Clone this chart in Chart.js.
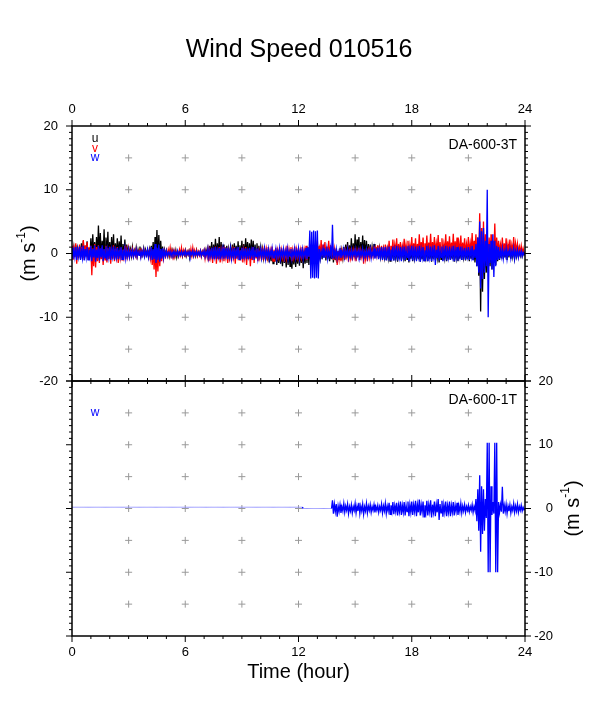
<!DOCTYPE html>
<html>
<head>
<meta charset="utf-8">
<script src="https://cdn.jsdelivr.net/npm/chart.js@4.4.1/dist/chart.umd.min.js"></script>
<style>
  html, body { margin: 0; padding: 0; background: #fff; }
  #wrap { position: relative; width: 598px; height: 708px; }
  canvas { position: absolute; left: 0; }
  #top { top: 0; }
  #bottom { top: 363px; }
</style>
</head>
<body>
<div id="wrap">
  <canvas id="top" width="598" height="403"></canvas>
  <canvas id="bottom" width="598" height="345"></canvas>
</div>
<script>
// samples every 0.05 hour (3 min), 0 .. 24, one row per hour
const stepHours = 0.05;

// DA-600-3T, u component (m/s)
const uTop = [
  0.6,-0.3,1.0,-0.5,1.3,-0.2,0.8,-0.6,1.1,-0.4,1.6,-0.3,2.0,-0.7,1.2,-0.2,1.9,-0.5,0.9,-0.4,
  2.4,-0.6,3.0,-0.2,1.8,-1.0,2.6,-0.5,4.4,-0.3,3.2,-0.8,2.0,-0.4,3.8,-0.7,2.5,-0.3,3.4,-0.8,
  1.8,-0.6,2.6,-0.3,3.0,-0.7,1.6,-0.4,2.4,-0.5,1.9,-0.2,2.8,-0.6,1.5,-0.3,2.2,-0.5,1.4,-0.4,
  1.2,-0.2,0.7,-0.4,1.0,-0.3,0.5,-0.2,0.9,-0.4,0.6,-0.1,1.1,-0.3,0.5,-0.2,0.8,-0.3,0.6,-0.2,
  0.5,-0.4,0.7,-0.2,1.2,-0.5,1.8,-0.8,2.6,-0.6,3.7,-1.0,2.9,-0.7,2.0,-0.5,1.1,-0.4,0.6,-0.3,
  0.5,-0.2,0.3,-0.5,0.4,-0.3,0.6,-0.1,0.3,-0.4,0.5,-0.6,0.2,-0.3,0.4,-0.2,0.5,-0.4,0.3,-0.2,
  0.5,-0.4,0.3,-0.2,0.4,-0.5,0.2,-0.3,0.4,-0.2,0.3,-0.4,0.5,-0.3,0.2,-0.2,0.4,-0.3,0.3,-0.2,
  0.4,-0.3,0.6,-0.2,0.8,-0.4,1.2,-0.5,1.8,-0.6,1.4,-0.3,2.3,-0.7,1.6,-0.4,2.6,-0.8,1.8,-0.5,
  1.4,-0.4,1.0,-0.6,1.2,-0.3,0.8,-0.5,1.0,-0.4,1.4,-0.7,1.6,-0.3,1.2,-0.6,1.9,-0.5,1.3,-0.8,
  2.0,-0.5,1.5,-0.7,2.4,-0.4,1.8,-0.8,1.6,-0.3,2.2,-0.6,2.0,-0.7,1.4,-0.4,1.6,-0.6,1.2,-0.3,
  1.0,-0.5,0.7,-0.7,0.8,-0.9,0.5,-1.1,0.6,-1.4,0.3,-1.2,0.5,-1.6,0.2,-1.3,0.6,-1.8,0.3,-1.5,
  0.5,-1.6,0.2,-2.0,0.4,-1.5,0.1,-2.2,0.6,-1.8,0.3,-2.0,0.5,-2.4,0.2,-1.7,0.4,-2.1,0.1,-1.6,
  0.5,-1.9,0.3,-1.5,0.6,-2.3,0.4,-1.6,0.8,-1.5,1.0,-1.8,1.2,-1.2,0.9,-1.5,1.0,-1.0,0.7,-1.3,
  0.9,-1.0,0.6,-0.7,0.8,-0.9,0.5,-0.6,1.0,-1.1,0.7,-0.8,0.7,-1.2,0.4,-0.9,0.8,-1.4,0.5,-1.0,
  0.6,-1.5,0.4,-1.0,0.8,-1.0,0.5,-0.7,1.0,-0.8,1.4,-0.5,1.8,-0.7,1.3,-0.4,2.4,-0.8,1.6,-0.5,
  3.0,-0.9,2.2,-0.5,2.6,-0.7,1.8,-0.4,2.8,-0.8,2.1,-0.5,2.0,-0.6,1.5,-0.4,1.4,-0.6,1.0,-0.3,
  1.5,-0.6,1.0,-0.4,1.2,-0.7,0.8,-0.5,1.0,-0.9,0.6,-0.6,0.9,-1.0,0.5,-0.7,1.1,-1.2,0.7,-0.8,
  1.0,-1.1,0.6,-0.7,0.8,-1.3,0.5,-0.8,1.2,-1.0,0.7,-0.6,0.9,-1.2,0.5,-0.9,1.0,-1.4,0.6,-0.8,
  0.8,-1.2,0.5,-0.7,1.0,-1.0,0.6,-0.8,0.9,-1.3,0.5,-0.9,1.1,-1.1,0.7,-0.6,0.8,-1.2,0.5,-0.8,
  1.0,-1.3,0.6,-0.8,0.9,-1.0,0.5,-0.7,1.2,-1.4,0.7,-0.9,0.8,-1.1,0.5,-0.7,1.0,-1.2,0.6,-0.9,
  0.9,-1.0,0.5,-0.8,1.1,-1.3,0.6,-0.7,0.8,-1.2,0.5,-0.8,1.0,-1.0,0.6,-0.6,0.9,-1.1,0.5,-0.8,
  1.0,-1.2,0.6,-0.8,1.2,-1.0,0.7,-1.4,1.4,-2.0,2.5,-3.5,3.5,-9.1,4.0,-6.0,2.0,-4.0,2.5,-3.0,
  2.5,-3.0,1.5,-2.0,2.0,-2.5,1.2,-1.5,1.5,-1.8,1.0,-1.2,1.4,-1.0,0.8,-0.7,1.2,-0.9,0.6,-0.6,
  1.5,-1.0,0.8,-0.6,1.2,-0.8,0.6,-0.5,1.0,-0.7,0.5,-0.4,1.3,-0.6,0.7,-0.3,0.6,-0.4,0.3,-0.2,
  0.2
];

// DA-600-3T, v component
const vTop = [
  1.2,-1.0,0.7,-0.5,1.6,-1.6,0.9,-0.6,1.4,-0.9,1.0,-0.4,2.1,-1.0,1.3,-0.5,1.8,-0.9,1.0,-0.5,
  1.2,-3.4,0.8,-2.0,1.5,-2.2,1.0,-1.2,1.3,-1.5,0.7,-0.9,1.0,-1.8,0.6,-1.0,1.2,-1.4,0.8,-0.8,
  1.1,-1.6,0.6,-0.8,1.3,-1.2,0.7,-0.6,1.0,-1.5,0.5,-0.7,0.9,-1.0,0.6,-0.5,1.2,-0.9,0.6,-0.5,
  0.8,-0.5,0.4,-0.2,0.7,-0.4,0.4,-0.3,0.6,-0.5,0.3,-0.2,0.8,-0.4,0.4,-0.2,0.6,-0.3,0.3,-0.2,
  0.5,-0.5,0.4,-0.8,0.8,-1.8,0.5,-2.5,1.0,-3.7,0.6,-2.8,0.8,-2.0,0.5,-1.2,0.6,-0.8,0.4,-0.4,
  0.4,-0.4,0.6,-0.2,0.9,-0.3,0.5,-0.2,0.5,-0.5,0.3,-0.2,0.3,-0.4,0.6,-0.2,0.9,-0.3,0.5,-0.2,
  0.5,-0.3,0.3,-0.2,0.4,-0.5,0.7,-0.3,0.9,-0.3,0.5,-0.2,0.5,-0.4,0.3,-0.3,0.4,-0.5,0.3,-0.2,
  0.5,-0.8,0.3,-0.4,0.6,-1.2,0.4,-0.6,0.9,-1.5,0.5,-0.8,1.1,-1.6,0.6,-0.9,1.0,-1.4,0.5,-0.7,
  1.0,-1.2,0.5,-0.6,0.9,-1.5,0.4,-0.7,0.8,-1.2,0.5,-0.6,1.0,-1.6,0.6,-0.8,0.9,-1.0,0.5,-0.5,
  0.9,-1.4,0.5,-0.7,1.0,-1.8,0.6,-0.9,0.8,-2.0,0.4,-1.0,1.0,-1.5,0.5,-0.7,0.7,-1.2,0.4,-0.6,
  0.9,-1.0,0.5,-0.5,1.2,-1.1,0.6,-0.6,1.0,-0.8,0.5,-0.4,1.1,-1.2,0.6,-0.6,0.9,-1.0,0.5,-0.5,
  1.0,-1.1,0.5,-0.6,0.8,-1.3,0.4,-0.7,1.2,-0.9,0.6,-0.5,1.0,-1.2,0.5,-0.6,1.1,-1.0,0.6,-0.5,
  0.9,-1.2,0.5,-0.6,1.0,-0.8,0.6,-0.4,1.2,-1.0,0.8,-0.5,1.5,-1.2,0.9,-0.6,1.6,-1.4,1.0,-0.7,
  2.0,-0.5,1.2,-0.2,2.1,-0.4,1.4,0.0,1.8,-0.6,1.1,-0.2,2.0,-0.5,1.3,-0.3,1.2,-1.0,0.7,-0.5,
  0.8,-1.8,0.4,-0.9,0.7,-1.2,0.4,-0.6,0.8,-1.0,0.4,-0.5,0.6,-1.3,0.3,-0.7,0.9,-1.1,0.5,-0.5,
  0.8,-1.2,0.4,-0.6,0.9,-1.0,0.5,-0.5,0.7,-1.6,0.4,-0.8,0.8,-1.2,0.4,-0.6,1.0,-0.8,0.6,-0.4,
  1.1,-0.6,0.7,-0.3,1.3,-0.5,0.8,-0.2,1.2,-0.4,0.8,-0.1,1.4,-0.3,0.9,0.0,2.0,-0.3,1.2,0.0,
  2.2,-0.2,1.4,0.2,2.4,-0.3,1.5,0.1,1.8,-0.2,1.2,0.3,2.3,-0.1,1.4,0.2,2.0,-0.2,1.3,0.2,
  2.6,-0.1,1.6,0.3,2.4,-0.2,1.5,0.2,3.0,0.0,1.8,0.4,2.5,-0.2,1.6,0.3,2.8,-0.1,1.7,0.3,
  3.1,-0.2,1.8,0.3,2.6,0.0,1.6,0.4,2.9,-0.1,1.8,0.2,2.4,-0.2,1.5,0.3,3.0,-0.1,1.9,0.3,
  2.7,-0.2,1.7,0.3,3.1,-0.1,1.9,0.4,2.5,0.0,1.6,0.3,2.8,-0.2,1.7,0.2,2.4,-0.1,1.5,0.3,
  2.6,0.0,1.6,0.3,3.2,-0.2,2.0,0.2,3.0,-0.5,2.2,-1.5,6.3,-4.0,4.0,-2.5,5.0,-1.5,3.0,-1.0,
  3.5,-2.0,2.5,-1.0,3.0,0.5,2.0,-0.5,4.7,-0.8,2.5,0.0,2.0,-0.2,1.4,0.3,2.5,-0.1,1.6,0.2,
  2.4,-0.1,1.5,0.3,2.2,-0.2,1.3,0.2,2.6,0.0,1.6,0.3,1.5,-0.2,1.0,0.2,1.2,0.0,0.8,0.1,
  0.0
];

// DA-600-3T, w component
const wTop = [
  0.9,-0.9,0.5,-0.6,1.0,-1.0,0.6,-0.5,1.1,-1.0,0.5,-0.7,1.2,-1.1,0.7,-0.6,1.0,-1.0,0.6,-0.5,
  1.2,-1.2,0.7,-0.6,1.3,-1.3,0.6,-0.7,1.2,-1.1,0.8,-0.6,1.3,-1.2,0.7,-0.7,1.1,-1.1,0.6,-0.6,
  1.0,-1.0,0.6,-0.5,1.1,-1.0,0.5,-0.6,0.9,-0.9,0.5,-0.5,1.0,-0.9,0.6,-0.5,0.8,-0.8,0.4,-0.5,
  0.6,-0.6,0.3,-0.3,0.5,-0.5,0.3,-0.3,0.6,-0.5,0.3,-0.3,0.5,-0.6,0.3,-0.3,0.6,-0.5,0.3,-0.3,
  0.6,-0.6,0.4,-0.5,1.0,-1.0,0.7,-0.9,1.5,-1.5,0.9,-1.0,1.4,-1.3,0.7,-0.8,0.8,-0.7,0.4,-0.4,
  0.4,-0.4,0.2,-0.2,0.3,-0.4,0.2,-0.2,0.4,-0.3,0.2,-0.2,0.4,-0.4,0.2,-0.2,0.3,-0.3,0.2,-0.2,
  0.4,-0.3,0.2,-0.2,0.3,-0.4,0.2,-0.2,0.4,-0.4,0.2,-0.2,0.3,-0.3,0.2,-0.2,0.4,-0.4,0.2,-0.2,
  0.5,-0.5,0.3,-0.3,0.7,-0.7,0.4,-0.4,0.9,-0.9,0.5,-0.5,1.0,-0.9,0.5,-0.5,0.9,-0.9,0.5,-0.5,
  0.8,-0.8,0.5,-0.4,0.9,-0.9,0.5,-0.5,0.8,-0.8,0.4,-0.5,0.9,-0.8,0.5,-0.4,1.0,-0.9,0.5,-0.5,
  0.9,-0.9,0.5,-0.5,0.8,-0.9,0.4,-0.5,0.9,-0.8,0.5,-0.4,1.0,-1.0,0.5,-0.5,0.8,-0.8,0.4,-0.4,
  0.7,-0.7,0.4,-0.4,0.8,-0.8,0.4,-0.4,0.7,-0.8,0.4,-0.4,0.8,-0.7,0.4,-0.4,0.7,-0.8,0.4,-0.4,
  0.8,-0.8,0.4,-0.4,0.7,-0.7,0.4,-0.4,0.8,-0.8,0.4,-0.4,0.7,-0.8,0.4,-0.4,0.8,-0.7,0.4,-0.4,
  0.8,-0.8,0.4,-0.4,0.7,-0.8,0.4,-0.4,0.9,-0.9,0.5,-0.5,3.6,-3.9,3.4,-3.8,3.6,-3.9,3.5,-3.8,
  3.6,-3.9,0.7,-0.8,0.4,-0.4,0.8,-0.7,0.4,-0.4,0.8,-0.8,0.4,-0.4,0.8,-0.8,4.5,-0.8,0.4,-0.4,
  0.7,-0.7,0.3,-0.4,0.6,-0.7,0.3,-0.3,0.7,-0.6,0.4,-0.3,0.7,-0.7,0.3,-0.4,0.6,-0.6,0.3,-0.3,
  0.7,-0.6,0.3,-0.4,0.6,-0.7,0.4,-0.3,0.7,-0.7,0.3,-0.4,0.6,-0.6,0.4,-0.3,0.7,-0.7,0.3,-0.4,
  0.8,-0.8,0.4,-0.4,0.9,-0.9,0.5,-0.5,1.0,-1.0,0.5,-0.5,1.0,-1.1,0.5,-0.5,1.1,-1.0,0.6,-0.5,
  1.1,-1.1,0.6,-0.5,1.2,-1.1,0.5,-0.6,1.0,-1.2,0.6,-0.5,1.1,-1.0,0.5,-0.6,1.2,-1.2,0.6,-0.5,
  1.2,-1.1,0.6,-0.6,1.1,-1.2,0.5,-0.5,1.2,-1.3,0.6,-0.6,1.0,-1.1,0.5,-0.5,1.2,-1.2,0.6,-0.6,
  1.1,-1.2,0.6,-0.5,1.3,-1.8,0.6,-0.7,1.2,-1.1,0.5,-0.6,1.1,-1.2,0.6,-0.5,1.2,-1.1,0.5,-0.6,
  1.1,-1.0,0.5,-0.5,1.2,-1.2,0.6,-0.6,1.0,-1.1,0.5,-0.5,1.1,-1.0,0.5,-0.5,0.9,-1.0,0.5,-0.5,
  1.0,-1.0,0.5,-0.5,1.2,-1.1,0.6,-0.7,1.5,-2.0,2.5,-3.0,5.0,-5.5,3.5,-4.0,4.0,-3.0,2.0,-2.0,
  10.0,-10.0,1.5,-1.5,2.0,-2.5,3.0,-3.7,2.0,-2.0,1.2,-1.0,1.0,-0.9,0.5,-0.5,0.8,-0.8,0.4,-0.4,
  0.8,-0.8,0.4,-0.4,0.7,-0.7,0.4,-0.4,0.8,-0.8,0.4,-0.4,0.6,-0.6,0.3,-0.3,0.4,-0.4,0.2,-0.2,
  0.0
];

// DA-600-1T, w component
const wBottom = [
  0.2,0.2,0.2,0.2,0.2,0.2,0.2,0.2,0.2,0.2,0.2,0.2,0.2,0.2,0.2,0.2,0.2,0.2,0.2,0.2,
  0.2,0.2,0.2,0.2,0.2,0.2,0.2,0.2,0.2,0.2,0.2,0.2,0.2,0.2,0.2,0.2,0.2,0.2,0.2,0.2,
  0.2,0.2,0.2,0.2,0.2,0.2,0.2,0.2,0.2,0.2,0.2,0.2,0.2,0.2,0.2,0.2,0.2,0.2,0.2,0.2,
  0.2,0.2,0.2,0.2,0.2,0.2,0.2,0.2,0.2,0.2,0.2,0.2,0.2,0.2,0.2,0.2,0.2,0.2,0.2,0.2,
  0.2,0.2,0.2,0.2,0.2,0.2,0.2,0.2,0.2,0.2,0.2,0.2,0.2,0.2,0.2,0.2,0.2,0.2,0.2,0.2,
  0.2,0.2,0.2,0.2,0.2,0.2,0.2,0.2,0.2,0.2,0.2,0.2,0.2,0.2,0.2,0.2,0.2,0.2,0.2,0.2,
  0.2,0.2,0.2,0.2,0.2,0.2,0.2,0.2,0.2,0.2,0.2,0.2,0.2,0.2,0.2,0.2,0.2,0.2,0.2,0.2,
  0.2,0.2,0.2,0.2,0.2,0.2,0.2,0.2,0.2,0.2,0.2,0.2,0.2,0.2,0.2,0.2,0.2,0.2,0.2,0.2,
  0.2,0.2,0.2,0.2,0.2,0.2,0.2,0.2,0.2,0.2,0.2,0.2,0.2,0.2,0.2,0.2,0.2,0.2,0.2,0.2,
  0.2,0.2,0.2,0.2,0.2,0.2,0.2,0.2,0.2,0.2,0.2,0.2,0.2,0.2,0.2,0.2,0.2,0.2,0.2,0.2,
  0.2,0.2,0.2,0.2,0.2,0.2,0.2,0.2,0.2,0.2,0.2,0.2,0.2,0.2,0.2,0.2,0.2,0.2,0.2,0.2,
  0.2,0.2,0.2,0.2,0.2,0.2,0.2,0.2,0.2,0.2,0.2,0.2,0.2,0.2,0.2,0.2,0.2,0.2,0.2,0.2,
  0.2,0.2,0.2,0.2,0.2,0.0,0.0,0.0,0.0,0.0,0.0,0.0,0.0,0.0,0.0,0.0,0.0,0.0,0.0,0.0,
  0.0,0.0,0.0,0.0,0.0,0.0,0.0,0.0,0.0,0.0,0.0,0.0,0.0,0.0,0.0,0.0,1.3,-0.8,0.7,-0.5,
  0.7,-1.3,0.4,-0.5,0.6,-0.7,0.3,-0.4,0.8,-0.6,0.4,-0.3,0.7,-0.8,0.3,-0.4,0.6,-0.7,0.3,-0.3,
  0.8,-0.7,0.4,-0.4,0.9,-0.8,0.4,-0.4,0.7,-0.9,0.3,-0.4,0.8,-0.7,0.4,-0.3,0.6,-0.6,0.3,-0.3,
  0.6,-0.6,0.3,-0.3,0.5,-0.6,0.3,-0.3,0.7,-0.7,0.4,-0.4,0.8,-0.8,0.4,-0.4,0.9,-0.9,0.5,-0.5,
  1.0,-0.9,0.5,-0.5,0.9,-1.1,0.5,-0.5,1.1,-1.0,0.5,-0.6,1.0,-1.1,0.5,-0.5,1.1,-1.2,0.6,-0.6,
  1.1,-1.0,0.6,-0.5,1.2,-1.2,0.6,-0.6,1.4,-1.1,0.6,-0.6,1.1,-1.3,0.5,-0.6,1.2,-1.1,0.6,-0.5,
  1.3,-1.4,0.6,-0.6,1.1,-1.2,0.6,-0.6,1.5,-1.8,0.7,-0.7,1.2,-1.3,0.6,-0.6,1.1,-1.2,0.5,-0.6,
  1.1,-1.2,0.5,-0.6,1.0,-1.1,0.5,-0.5,0.9,-1.0,0.4,-0.5,0.8,-0.7,0.4,-0.4,0.6,-0.6,0.3,-0.3,
  0.5,-0.5,0.3,-0.3,0.6,-0.6,0.3,-0.3,1.5,-2.0,3.0,-3.5,5.2,-6.8,3.5,-4.0,3.0,-3.5,1.5,-1.5,
  10.3,-10.0,10.3,-10.0,3.5,-1.0,1.0,-0.8,10.3,-10.0,10.3,-10.0,1.0,-0.6,0.6,-0.5,3.4,-0.8,0.5,-0.5,
  0.7,-0.8,0.4,-0.4,0.6,-0.7,0.3,-0.3,0.8,-0.6,0.4,-0.4,0.7,-0.6,0.3,-0.3,0.5,-0.4,0.2,-0.2,
  0.0
];

// grid crosses
const gridHours = [3, 6, 9, 12, 15, 18, 21];
const gridSpeeds = [-15, -10, -5, 0, 5, 10, 15];

const FONT = '"Liberation Sans", Arial, Helvetica, sans-serif';
Chart.defaults.font.family = FONT;
Chart.defaults.color = '#000';

function toPoints(values) {
  return values.map((v, i) => ({ x: Math.round(i * stepHours * 100) / 100, y: v }));
}

function crosses() {
  const pts = [];
  gridHours.forEach(h => gridSpeeds.forEach(s => pts.push({ x: h, y: s })));
  return pts;
}

function series(label, values, color, order) {
  return {
    label: label,
    data: toPoints(values),
    borderColor: color,
    borderWidth: 1.3,
    pointRadius: 0,
    tension: 0,
    fill: false,
    order: order,
    segment: {
      // quiet (flat) stretches are drawn as a thin pale trace
      borderWidth: c => (c.p0.parsed.y === c.p1.parsed.y ? 0.8 : 1.3),
      borderColor: c => (c.p0.parsed.y === c.p1.parsed.y ? '#7f7fff' : color)
    }
  };
}

const crossSet = {
  label: 'grid',
  data: crosses(),
  showLine: false,
  pointStyle: 'cross',
  pointRadius: 3.5,
  pointBorderColor: '#9a9a9a',
  pointBorderWidth: 1,
  order: 10
};

function drawUnits(ctx, cx, cy) {
  ctx.save();
  ctx.translate(cx, cy);
  ctx.rotate(-Math.PI / 2);
  ctx.fillStyle = '#000';
  ctx.textBaseline = 'middle';
  ctx.textAlign = 'left';
  const big = '20px ' + FONT, small = '12px ' + FONT;
  ctx.font = big;
  const w1 = ctx.measureText('(m s').width;
  const w3 = ctx.measureText(')').width;
  ctx.font = small;
  const w2 = ctx.measureText('-1').width;
  const x = -(w1 + w2 + w3) / 2;
  ctx.font = big;
  ctx.fillText('(m s', x, 1);
  ctx.font = small;
  ctx.fillText('-1', x + w1, -6);
  ctx.font = big;
  ctx.fillText(')', x + w1 + w2, 1);
  ctx.restore();
}

// frame, outward ticks, labels inside the panel
const panelFrame = {
  id: 'panelFrame',
  afterDraw(chart, args, opts) {
    const { ctx, chartArea: a } = chart;
    const xs = chart.scales.x, ys = chart.scales.y;
    ctx.save();
    ctx.strokeStyle = '#000';
    ctx.lineWidth = 1;
    ctx.beginPath();
    for (let h = 0; h <= 24; h++) {
      const px = xs.getPixelForValue(h);
      const len = h % 6 === 0 ? 6 : 3;
      ctx.moveTo(px, a.top); ctx.lineTo(px, a.top - len);
      ctx.moveTo(px, a.bottom); ctx.lineTo(px, a.bottom + len);
    }
    for (let s = -20; s <= 20; s++) {
      const py = ys.getPixelForValue(s);
      const len = s % 10 === 0 ? 6 : 3;
      ctx.moveTo(a.left, py); ctx.lineTo(a.left - len, py);
      ctx.moveTo(a.right, py); ctx.lineTo(a.right + len, py);
    }
    ctx.stroke();
    ctx.lineWidth = 1.5;
    ctx.strokeRect(a.left, a.top, a.right - a.left, a.bottom - a.top);

    ctx.font = '14px ' + FONT;
    ctx.fillStyle = '#000';
    ctx.textAlign = 'right';
    ctx.textBaseline = 'middle';
    ctx.fillText(opts.station, a.right - 8, a.top + 19);

    ctx.font = '12px ' + FONT;
    ctx.textAlign = 'center';
    opts.legend.forEach((item, i) => {
      ctx.fillStyle = item.color;
      ctx.fillText(item.text, a.left + 23, a.top + opts.legendTop + i * 9.5);
    });

    const cy = (a.top + a.bottom) / 2;
    if (opts.unitSide === 'left') drawUnits(ctx, 28, cy);
    else drawUnits(ctx, a.right + 47, cy);
    ctx.restore();
  }
};

new Chart(document.getElementById('top'), {
  type: 'line',
  data: {
    datasets: [
      series('w', wTop, '#0000ff', 0),
      series('v', vTop, '#ff0000', 1),
      series('u', uTop, '#000000', 2),
      crossSet
    ]
  },
  options: {
    responsive: false,
    animation: false,
    parsing: false,
    normalized: true,
    layout: { padding: { left: 0, right: 0, top: 0, bottom: 22 } },
    plugins: {
      legend: { display: false },
      tooltip: { enabled: false },
      title: {
        display: true,
        text: 'Wind Speed 010516',
        color: '#000',
        font: { size: 25, weight: 'normal', family: FONT },
        padding: { top: 35, bottom: 0 }
      },
      panelFrame: {
        station: 'DA-600-3T',
        legendTop: 13,
        legend: [
          { text: 'u', color: '#000000' },
          { text: 'v', color: '#ff0000' },
          { text: 'w', color: '#0000ff' }
        ],
        unitSide: 'left'
      }
    },
    scales: {
      x: {
        type: 'linear',
        position: 'top',
        min: 0, max: 24,
        grid: { display: false, drawTicks: false },
        border: { display: false },
        ticks: { stepSize: 6, padding: 9, maxRotation: 0, font: { size: 13 } },
        afterFit: s => { s.height = 61; }
      },
      y: {
        type: 'linear',
        position: 'left',
        min: -20, max: 20,
        grid: { display: false, drawTicks: false },
        border: { display: false },
        ticks: { stepSize: 10, padding: 14, font: { size: 13 } },
        afterFit: s => { s.width = 72; }
      },
      yRight: {
        type: 'linear',
        position: 'right',
        min: -20, max: 20,
        grid: { display: false, drawTicks: false },
        border: { display: false },
        ticks: { display: false },
        afterFit: s => { s.width = 73; }
      }
    }
  },
  plugins: [panelFrame]
});

new Chart(document.getElementById('bottom'), {
  type: 'line',
  data: {
    datasets: [
      series('w', wBottom, '#0000ff', 0),
      crossSet
    ]
  },
  options: {
    responsive: false,
    animation: false,
    parsing: false,
    normalized: true,
    layout: { padding: { left: 72, right: 45, top: 18, bottom: 0 } },
    plugins: {
      legend: { display: false },
      tooltip: { enabled: false },
      panelFrame: {
        station: 'DA-600-1T',
        legendTop: 32,
        legend: [{ text: 'w', color: '#0000ff' }],
        unitSide: 'right'
      }
    },
    scales: {
      x: {
        type: 'linear',
        position: 'bottom',
        min: 0, max: 24,
        grid: { display: false, drawTicks: false },
        border: { display: false },
        ticks: { stepSize: 6, padding: 9, maxRotation: 0, font: { size: 13 } },
        title: {
          display: true,
          text: 'Time (hour)',
          font: { size: 20 },
          padding: { top: 0, bottom: 24 }
        },
        afterFit: s => { s.height = 72; }
      },
      y: {
        type: 'linear',
        position: 'right',
        min: -20, max: 20,
        grid: { display: false, drawTicks: false },
        border: { display: false },
        ticks: { stepSize: 10, padding: 10, crossAlign: 'far', font: { size: 13 } },
        afterFit: s => { s.width = 28; }
      }
    }
  },
  plugins: [panelFrame]
});
</script>
</body>
</html>
